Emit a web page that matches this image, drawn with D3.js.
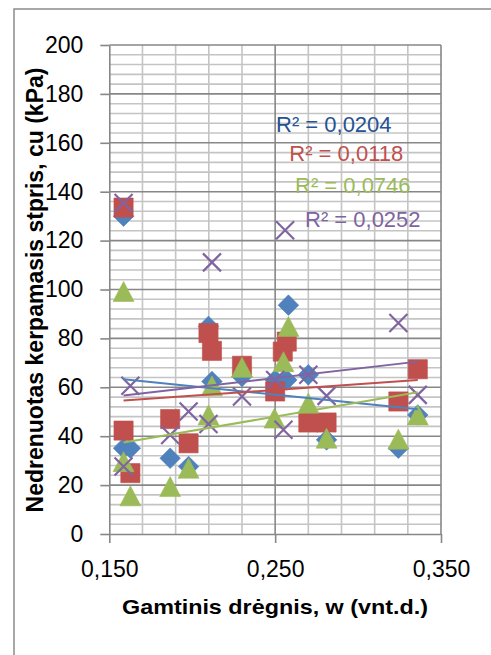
<!DOCTYPE html>
<html>
<head>
<meta charset="utf-8">
<script src="https://cdn.jsdelivr.net/npm/d3@7"></script>
<style>
  body { margin: 0; background: #fff; }
  svg { display: block; }
</style>
</head>
<body>
<svg id="chart" width="491" height="655"></svg>
<script>
// values: w (vnt.d.) and cu (kPa) for each series
const blueW = [0.1586, 0.1586, 0.1627, 0.1867, 0.1978, 0.2098, 0.2119, 0.230, 0.250, 0.257, 0.258, 0.270, 0.281, 0.3243, 0.336];
const blueCu = [130.0, 35.1, 35.1, 31.0, 27.6, 84.9, 62.4, 64.4, 63.0, 63.0, 93.6, 65.1, 38.5, 35.1, 48.7];

const redW = [0.1586, 0.1586, 0.1627, 0.1867, 0.1978, 0.2098, 0.2119, 0.230, 0.250, 0.2546, 0.257, 0.270, 0.281, 0.3243, 0.336];
const redCu = [133.5, 42.3, 24.9, 47.0, 37.1, 82.2, 74.9, 68.8, 58.3, 74.6, 78.7, 45.6, 45.6, 54.2, 67.4];

const greenW = [0.1586, 0.1586, 0.1627, 0.1867, 0.1978, 0.2098, 0.2119, 0.230, 0.2496, 0.255, 0.258, 0.270, 0.281, 0.3243, 0.336];
const greenCu = [99.2, 29.6, 15.6, 19.4, 26.9, 48.7, 60.6, 68.2, 47.4, 70.5, 84.9, 53.5, 39.2, 38.8, 48.7];

const purpleW = [0.1586, 0.1586, 0.1627, 0.1867, 0.1978, 0.2098, 0.2119, 0.230, 0.250, 0.255, 0.256, 0.270, 0.281, 0.3243, 0.336];
const purpleCu = [135.4, 27.6, 60.6, 40.5, 50.1, 45.0, 111.1, 56.2, 63.0, 42.6, 124.2, 65.1, 56.5, 86.3, 56.9];

// linear trendlines (Excel), end values
const trendW = [0.1586, 0.336];
const trendStart = [63.3, 54.6, 37.4, 56.6];
const trendEnd = [51.0, 63.0, 58.0, 70.5];
const r2Labels = ["R\u00b2 = 0,0204", "R\u00b2 = 0,0118", "R\u00b2 = 0,0746", "R\u00b2 = 0,0252"];

const xTicks = [0.15, 0.25, 0.35];
const yTicks = [0, 20, 40, 60, 80, 100, 120, 140, 160, 180, 200];

const xTitle = "Gamtinis dr\u0117gnis, w (vnt.d.)";
const yTitle = "Nedrenuotas kerpamasis stpris, cu (kPa)";

// styling
const font = "'Liberation Sans', Arial, sans-serif";
const colors = ["#4f81bd", "#c0504d", "#9bbb59", "#8064a2"];
const labelColors = ["#245294", "#c0504d", "#9bbb59", "#8064a2"];
const shapes = ["diamond", "square", "triangle", "cross"];
const majorGrid = "#878787";
const minorGrid = "#c4c4c4";

const plot = { left: 109.3, right: 441, top: 45, bottom: 534 };

const svg = d3.select("#chart");

const x = d3.scaleLinear().domain([0.15, 0.35]).range([plot.left, plot.right]);
const y = d3.scaleLinear().domain([0, 200]).range([plot.bottom, plot.top]);

// chart area border (only left and top fall inside the picture)
svg.append("path")
  .attr("d", "M14,655 V9 H491")
  .attr("fill", "none")
  .attr("stroke", "#8c8c8c")
  .attr("stroke-width", 1.5);

// minor gridlines
const minorY = d3.range(0, 201, 4).filter((v) => v % 20 !== 0);
const minorX = d3.range(1, 10).map((i) => 0.15 + i * 0.02).filter((v) => Math.abs(v - 0.25) > 1e-6);

svg.append("g")
  .selectAll("line")
  .data(minorY)
  .join("line")
  .attr("x1", plot.left)
  .attr("x2", plot.right)
  .attr("y1", (d) => y(d))
  .attr("y2", (d) => y(d))
  .attr("stroke", minorGrid)
  .attr("stroke-width", 1.6);

svg.append("g")
  .selectAll("line")
  .data(minorX)
  .join("line")
  .attr("x1", (d) => x(d))
  .attr("x2", (d) => x(d))
  .attr("y1", plot.top)
  .attr("y2", plot.bottom)
  .attr("stroke", minorGrid)
  .attr("stroke-width", 1.6);

// major gridlines
svg.append("g")
  .selectAll("line")
  .data(yTicks.filter((d) => d > 0))
  .join("line")
  .attr("x1", plot.left)
  .attr("x2", plot.right)
  .attr("y1", (d) => y(d))
  .attr("y2", (d) => y(d))
  .attr("stroke", majorGrid)
  .attr("stroke-width", 1.6);

svg.append("g")
  .selectAll("line")
  .data(xTicks.filter((d) => d > 0.15))
  .join("line")
  .attr("x1", (d) => x(d))
  .attr("x2", (d) => x(d))
  .attr("y1", plot.top)
  .attr("y2", plot.bottom)
  .attr("stroke", majorGrid)
  .attr("stroke-width", 1.6);

// axes
const fmtX = (d) => d3.format(".3f")(d).replace(".", ",");

const yAxis = svg.append("g")
  .attr("transform", `translate(${plot.left},0)`)
  .call(d3.axisLeft(y).tickValues(yTicks).tickSize(9).tickPadding(17).tickSizeOuter(0));

const xAxis = svg.append("g")
  .attr("transform", `translate(0,${plot.bottom})`)
  .call(d3.axisBottom(x).tickValues(xTicks).tickFormat(fmtX).tickSize(9).tickPadding(18).tickSizeOuter(0));

[yAxis, xAxis].forEach((g) => {
  g.select(".domain").attr("stroke", majorGrid).attr("stroke-width", 1.6);
  g.selectAll(".tick line").attr("stroke", majorGrid).attr("stroke-width", 1.6);
  g.selectAll(".tick text")
    .attr("font-family", font)
    .attr("font-size", 23)
    .attr("fill", "#000");
});

// marker shapes, centred on their bounding box
function markerPath(shape) {
  switch (shape) {
    case "diamond":
      return "M0,-10.3 L10.3,0 L0,10.3 L-10.3,0 Z";
    case "square":
      return "M-9.6,-9.6 H9.6 V9.6 H-9.6 Z";
    case "triangle":
      return "M0,-10 L10.5,10 L-10.5,10 Z";
    default:
      return "M-9,-9 L9,9 M-9,9 L9,-9";
  }
}

const allSeries = [
  { w: blueW, cu: blueCu },
  { w: redW, cu: redCu },
  { w: greenW, cu: greenCu },
  { w: purpleW, cu: purpleCu },
];

allSeries.forEach((s, i) => {
  const pts = s.w.map((w, j) => [w, s.cu[j]]);
  const cross = shapes[i] === "cross";
  svg.append("g")
    .selectAll("path")
    .data(pts)
    .join("path")
    .attr("transform", (d) => `translate(${x(d[0])},${y(d[1])})`)
    .attr("d", markerPath(shapes[i]))
    .attr("fill", cross ? "none" : colors[i])
    .attr("stroke", colors[i])
    .attr("stroke-width", cross ? 2.2 : 0.6);
});

// trendlines
const line = d3.line()
  .x((d) => x(d[0]))
  .y((d) => y(d[1]));

trendStart.forEach((v, i) => {
  svg.append("path")
    .datum([[trendW[0], v], [trendW[1], trendEnd[i]]])
    .attr("d", line)
    .attr("fill", "none")
    .attr("stroke", colors[i])
    .attr("stroke-width", 2);
});

// R² labels
const r2Pos = [[276, 131.7], [289.3, 160.7], [295, 193.3], [305, 227.3]];

svg.append("g")
  .selectAll("text")
  .data(r2Labels)
  .join("text")
  .text((d) => d)
  .attr("x", (d, i) => r2Pos[i][0])
  .attr("y", (d, i) => r2Pos[i][1])
  .attr("font-family", font)
  .attr("font-size", 22)
  .attr("fill", (d, i) => labelColors[i]);

// axis titles
svg.append("text")
  .text(xTitle)
  .attr("x", 275)
  .attr("y", 614)
  .attr("text-anchor", "middle")
  .attr("font-family", font)
  .attr("font-weight", "bold")
  .attr("font-size", 21)
  .attr("textLength", 306)
  .attr("lengthAdjust", "spacingAndGlyphs")
  .attr("fill", "#000");

svg.append("text")
  .text(yTitle)
  .attr("transform", "translate(43.3,290) rotate(-90)")
  .attr("text-anchor", "middle")
  .attr("font-family", font)
  .attr("font-weight", "bold")
  .attr("font-size", 23)
  .attr("fill", "#000");
</script>
</body>
</html>
